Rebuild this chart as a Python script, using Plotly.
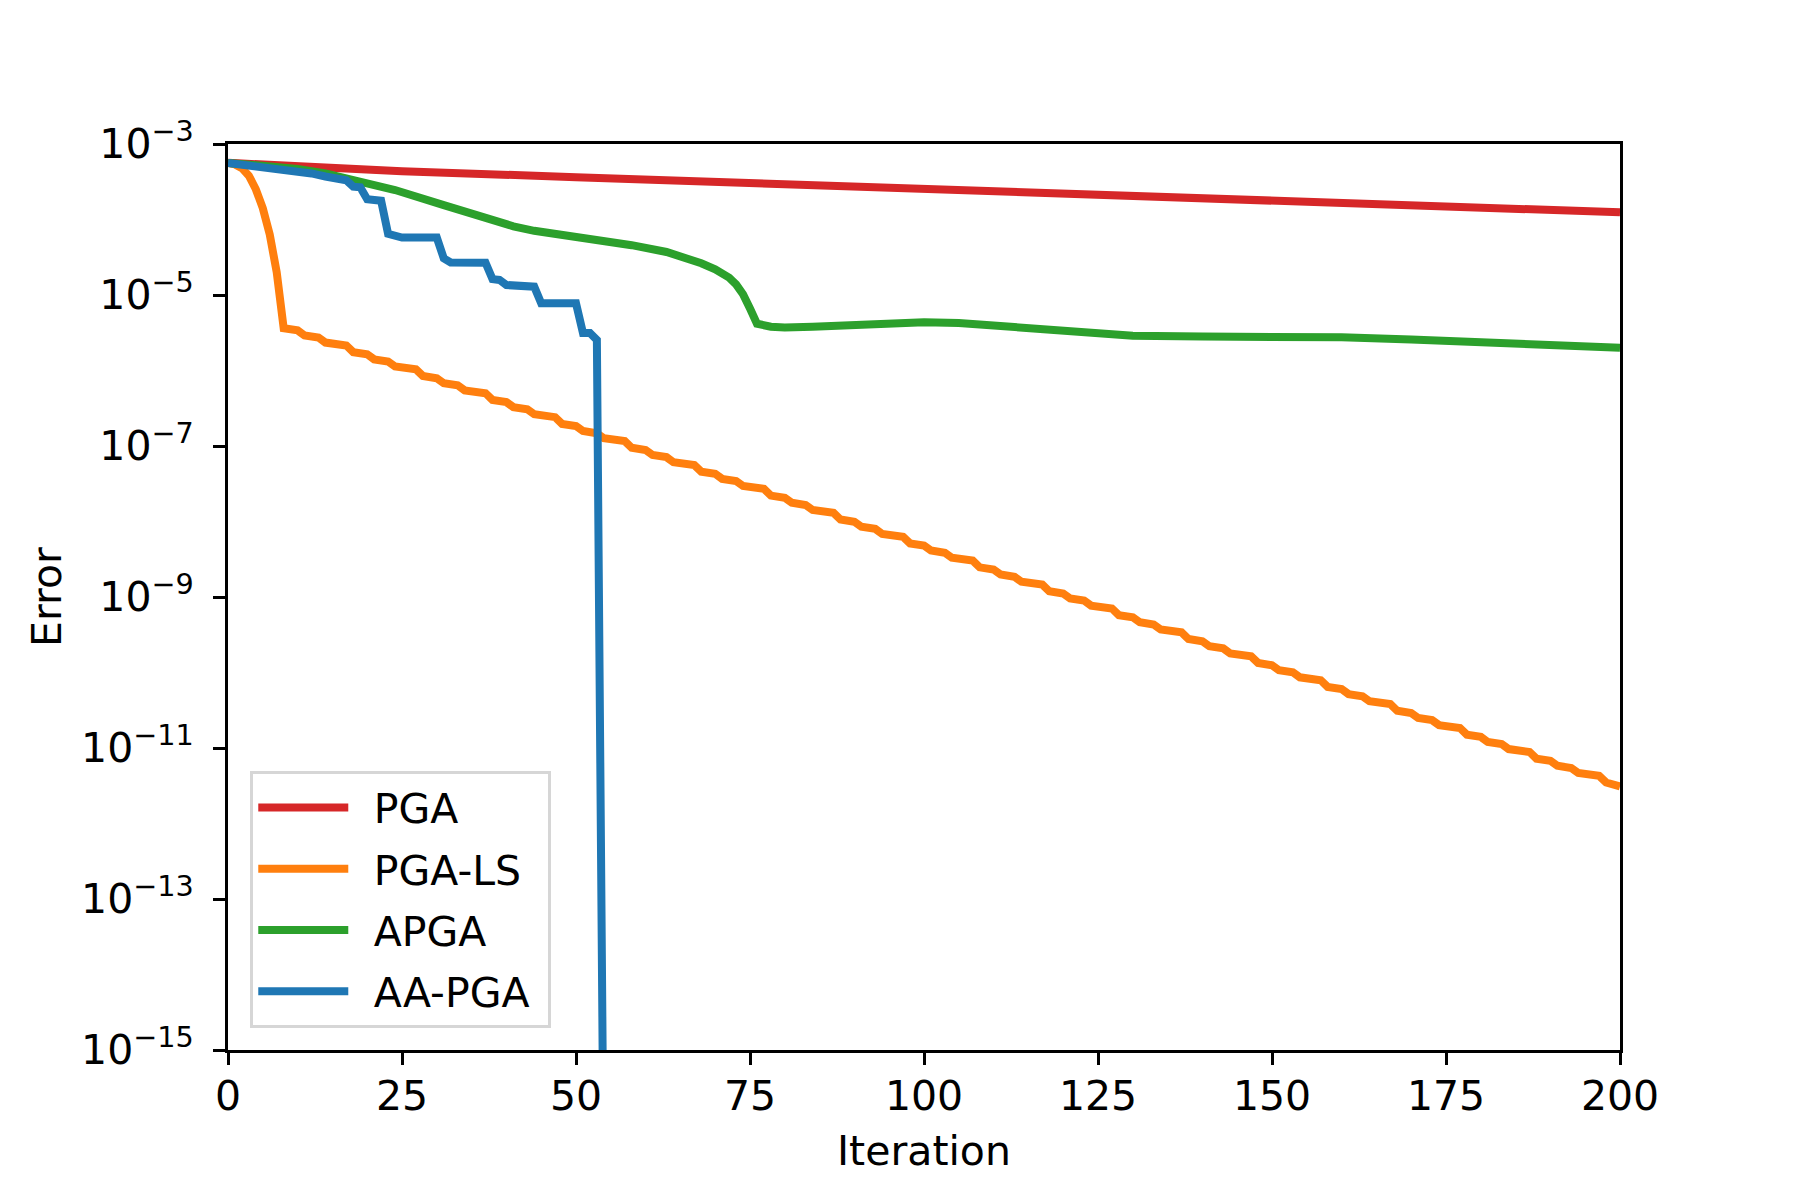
import plotly.graph_objects as go

# iterations and log10(error)
pga_it = [0, 25, 50, 75, 100, 125, 150, 175, 200]
pga_log = [-3.25, -3.36, -3.44, -3.52, -3.61, -3.685, -3.76, -3.835, -3.905]

pga_ls_it = [0, 1, 2, 3, 4, 5, 6, 7,
             8, 10, 11, 13, 14, 17, 18, 20, 21, 23, 24, 27,
             28, 30, 31, 33, 34, 37, 38, 40, 41, 43, 44, 47,
             48, 50, 51, 53, 54, 57, 58, 60, 61, 63, 64, 67,
             68, 70, 71, 73, 74, 77, 78, 80, 81, 83, 84, 87,
             88, 90, 91, 93, 94, 97, 98, 100, 101, 103, 104, 107,
             108, 110, 111, 113, 114, 117, 118, 120, 121, 123, 124, 127,
             128, 130, 131, 133, 134, 137, 138, 140, 141, 143, 144, 147,
             148, 150, 151, 153, 154, 157, 158, 160, 161, 163, 164, 167,
             168, 170, 171, 173, 174, 177, 178, 180, 181, 183, 184, 187,
             188, 190, 191, 193, 194, 197, 198, 200]
pga_ls_log = [-3.25, -3.27, -3.32, -3.42, -3.60, -3.85, -4.20, -4.70,
              -5.440, -5.469, -5.535, -5.564, -5.630, -5.668, -5.757, -5.786, -5.852, -5.881, -5.947, -5.985,
              -6.073, -6.102, -6.168, -6.197, -6.263, -6.301, -6.390, -6.419, -6.485, -6.514, -6.580, -6.618,
              -6.707, -6.736, -6.802, -6.831, -6.897, -6.935, -7.024, -7.053, -7.119, -7.148, -7.214, -7.252,
              -7.340, -7.369, -7.435, -7.464, -7.530, -7.568, -7.657, -7.686, -7.752, -7.781, -7.847, -7.885,
              -7.974, -8.003, -8.069, -8.098, -8.164, -8.202, -8.290, -8.319, -8.385, -8.414, -8.480, -8.518,
              -8.607, -8.636, -8.702, -8.731, -8.797, -8.835, -8.924, -8.953, -9.019, -9.048, -9.114, -9.152,
              -9.240, -9.269, -9.335, -9.364, -9.430, -9.468, -9.557, -9.586, -9.652, -9.681, -9.747, -9.785,
              -9.874, -9.903, -9.969, -9.998, -10.064, -10.102, -10.191, -10.220, -10.286, -10.315, -10.381, -10.419,
              -10.507, -10.536, -10.602, -10.631, -10.697, -10.735, -10.824, -10.853, -10.919, -10.948, -11.014, -11.052,
              -11.141, -11.170, -11.236, -11.265, -11.331, -11.369, -11.457, -11.51]

apga_it = [0, 5, 10, 14, 19, 24, 31, 38, 41, 44, 48, 53, 58, 63, 66, 68, 70, 72, 73, 74, 75, 76,
           78, 80, 84, 90, 95, 100, 105, 110, 115, 120, 125, 130, 140, 150, 160, 170, 180, 190, 200]
apga_log = [-3.25, -3.28, -3.33, -3.39, -3.49, -3.61, -3.81, -4.01, -4.09, -4.15, -4.20, -4.26, -4.34,
            -4.43, -4.51, -4.58, -4.66, -4.77, -4.86, -4.99, -5.18, -5.38,
            -5.42, -5.43, -5.42, -5.39, -5.37, -5.36, -5.37, -5.40, -5.44, -5.48, -5.51, -5.54,
            -5.55, -5.545, -5.56, -5.59, -5.62, -5.66, -5.70]

aapga_it = [0, 3, 6, 9, 12, 14, 15, 16, 17, 18, 19, 20, 21, 22, 23, 24, 25, 30, 31, 32, 37, 38, 39,
            40, 44, 45, 50, 51, 52, 53, 54]
aapga_log = [-3.25, -3.28, -3.305, -3.335, -3.39, -3.43, -3.44, -3.47, -3.48, -3.565, -3.574, -3.733,
             -3.745, -3.751, -4.19, -4.205, -4.24, -4.24, -4.514, -4.57, -4.572, -4.79, -4.80,
             -4.868, -4.89, -5.11, -5.11, -5.503, -5.503, -5.596, -17.0]

series = [
    ("PGA", pga_it, pga_log, "#d62728"),
    ("PGA-LS", pga_ls_it, pga_ls_log, "#ff7f0e"),
    ("APGA", apga_it, apga_log, "#2ca02c"),
    ("AA-PGA", aapga_it, aapga_log, "#1f77b4"),
]

x_ticks = [0, 25, 50, 75, 100, 125, 150, 175, 200]
y_exps = [-3, -5, -7, -9, -11, -13, -15]

fig = go.Figure()
for name, it, lg, color in series:
    fig.add_trace(
        go.Scatter(
            x=it,
            y=[10 ** v for v in lg],
            mode="lines",
            name="\u2002" + name + "\u00a0",
            legendgroup=name,
            line=dict(color=color, width=8),
        )
    )

font = dict(family="DejaVu Sans", size=41, color="black")

# page body adds 8px margin, so the figure is 16px smaller than the window
fig.update_layout(
    width=1784,
    height=1184,
    margin=dict(l=220, r=172, t=136, b=142, autoexpand=False),
    paper_bgcolor="white",
    plot_bgcolor="white",
    font=font,
    showlegend=True,
    legend=dict(
        x=0.016,
        y=0.024,
        xanchor="left",
        yanchor="bottom",
        bgcolor="rgba(255,255,255,0.8)",
        bordercolor="#d6d6d6",
        borderwidth=3,
        font=dict(family="DejaVu Sans", size=41, color="black"),
        itemwidth=90,
        tracegroupgap=5,
    ),
)

fig.update_xaxes(
    range=[0, 200],
    tickvals=x_ticks,
    ticktext=[str(t) for t in x_ticks],
    ticks="outside",
    ticklen=12,
    tickwidth=3,
    tickcolor="black",
    ticklabelstandoff=-4,
    showline=True,
    linewidth=3,
    linecolor="black",
    mirror=True,
    showgrid=False,
    zeroline=False,
    title=dict(text="Iteration", standoff=18, font=font),
)

fig.update_yaxes(
    type="log",
    range=[-15, -3],
    tickvals=[10 ** e for e in y_exps],
    ticktext=["10<sup>\u2212%d</sup>" % -e for e in y_exps],
    ticks="outside",
    ticklen=12,
    tickwidth=3,
    tickcolor="black",
    ticklabelstandoff=11,
    showline=True,
    linewidth=3,
    linecolor="black",
    mirror=True,
    showgrid=False,
    zeroline=False,
    title=dict(text="Error", standoff=7, font=font),
)

fig.write_html("out.html")
